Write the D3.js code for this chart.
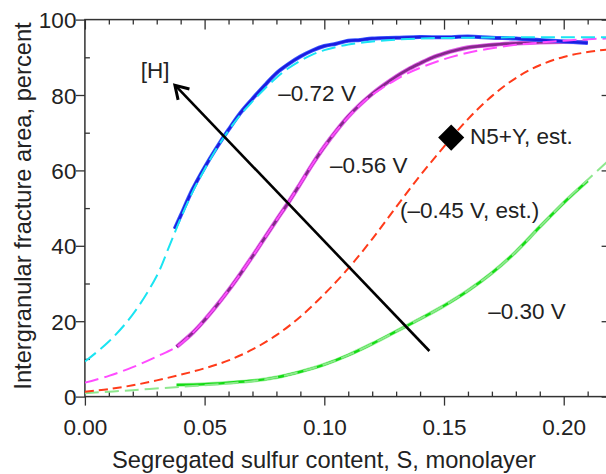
<!DOCTYPE html>
<html>
<head>
<meta charset="utf-8">
<script src="https://cdn.jsdelivr.net/npm/d3@7"></script>
<style>
  html, body { margin: 0; padding: 0; background: #fff; }
  svg { display: block; font-family: "Liberation Sans", Arial, sans-serif; }
</style>
</head>
<body>
<svg id="chart" width="606" height="474"></svg>
<script>
// Segregated sulfur content (monolayer) vs intergranular fracture area (percent)

// -0.72 V : fitted curve and measured trace
const fit072S = [0, 0.01, 0.02, 0.03, 0.035, 0.04, 0.045, 0.05, 0.055, 0.06, 0.065, 0.07, 0.075, 0.08, 0.085, 0.09, 0.095, 0.10, 0.11, 0.12, 0.13, 0.14, 0.16, 0.18, 0.20, 0.22];
const fit072V = [9.3, 14.6, 21.8, 32.0, 39.5, 47.3, 54.3, 60.3, 65.8, 70.6, 74.8, 78.3, 81.6, 84.6, 87.1, 89.1, 90.7, 91.9, 93.4, 94.2, 94.7, 95.0, 95.2, 95.3, 95.3, 95.3];
const data072S = [0.0375, 0.04, 0.045, 0.05, 0.055, 0.06, 0.065, 0.07, 0.075, 0.08, 0.085, 0.09, 0.095, 0.10, 0.105, 0.11, 0.115, 0.12, 0.13, 0.14, 0.15, 0.16, 0.17, 0.18, 0.19, 0.20, 0.21];
const data072V = [44.5, 48.0, 55.0, 60.8, 66.0, 70.8, 75.3, 79.0, 82.5, 85.8, 88.2, 90.2, 91.8, 93.0, 93.6, 94.4, 94.6, 95.0, 95.2, 95.4, 95.3, 95.5, 95.2, 95.0, 94.6, 94.2, 93.8];

// -0.56 V
const fit056S = [0, 0.01, 0.02, 0.03, 0.0383, 0.045, 0.05, 0.055, 0.06, 0.065, 0.07, 0.075, 0.08, 0.085, 0.09, 0.095, 0.10, 0.105, 0.11, 0.115, 0.12, 0.125, 0.13, 0.135, 0.14, 0.15, 0.16, 0.17, 0.18, 0.19, 0.20, 0.21, 0.22];
const fit056V = [3.7, 5.5, 7.8, 10.6, 13.2, 16.9, 20.3, 24.1, 28.2, 32.6, 37.2, 42.0, 46.8, 51.5, 56.5, 61.6, 66.3, 70.5, 74.2, 77.4, 80.1, 82.2, 84.1, 85.8, 87.2, 89.5, 91.2, 92.4, 93.3, 93.9, 94.4, 94.8, 95.0];
const data056S = [0.0383, 0.045, 0.05, 0.055, 0.06, 0.065, 0.07, 0.075, 0.08, 0.085, 0.09, 0.095, 0.10, 0.105, 0.11, 0.115, 0.12, 0.125, 0.13, 0.135, 0.14, 0.145, 0.15, 0.155, 0.16, 0.17, 0.18, 0.19, 0.20, 0.21];
const data056V = [13.2, 16.9, 20.3, 24.1, 28.2, 32.6, 37.2, 42.0, 46.8, 51.5, 56.5, 61.6, 66.3, 70.5, 74.3, 77.5, 80.3, 82.7, 84.9, 86.8, 88.4, 89.9, 91.0, 91.9, 92.6, 93.3, 93.7, 94.0, 94.1, 94.0];

// -0.45 V, estimated curve
const est045S = [0, 0.01, 0.02, 0.03, 0.04, 0.05, 0.06, 0.07, 0.08, 0.09, 0.10, 0.11, 0.12, 0.13, 0.14, 0.15, 0.16, 0.17, 0.18, 0.19, 0.20, 0.21, 0.22];
const est045V = [1.3, 2.0, 3.0, 4.3, 5.8, 7.5, 9.6, 12.5, 16.3, 21.2, 27.2, 34.0, 41.8, 50.3, 58.6, 66.3, 73.6, 79.7, 84.5, 87.9, 90.1, 91.4, 92.2];

// -0.30 V
const fit030S = [0, 0.02, 0.04, 0.05, 0.06, 0.07, 0.08, 0.09, 0.10, 0.11, 0.12, 0.13, 0.14, 0.15, 0.16, 0.17, 0.18, 0.19, 0.20, 0.21, 0.22];
const fit030V = [0.9, 1.7, 2.6, 3.0, 3.5, 4.1, 5.1, 6.6, 8.5, 11.0, 14.0, 17.3, 20.6, 24.1, 28.1, 32.8, 38.4, 45.0, 51.5, 57.5, 63.4];
const data030S = [0.0383, 0.05, 0.06, 0.07, 0.08, 0.09, 0.10, 0.11, 0.12, 0.13, 0.14, 0.15, 0.16, 0.17, 0.18, 0.19, 0.20, 0.21];
const data030V = [3.1, 3.3, 3.7, 4.2, 5.1, 6.6, 8.5, 11.0, 14.0, 17.3, 20.6, 24.1, 28.1, 32.8, 38.4, 45.0, 51.4, 57.2];

// N5+Y estimate
const pointS = [0.153];
const pointV = [68.7];

// Axis ticks
const xMajor = [0, 0.05, 0.10, 0.15, 0.20];
const xMajorLabels = ["0.00", "0.05", "0.10", "0.15", "0.20"];
const xMinor = [0.01, 0.02, 0.03, 0.04, 0.06, 0.07, 0.08, 0.09, 0.11, 0.12, 0.13, 0.14, 0.16, 0.17, 0.18, 0.19, 0.21];
const yMajor = [0, 20, 40, 60, 80, 100];
const yMajorLabels = ["0", "20", "40", "60", "80", "100"];
const yMinor = [10, 30, 50, 70, 90];

// Hydrogen arrow, from low to high [H]
const arrowS = [0.1439, 0.0376];
const arrowV = [12.1, 82.6];

const svg = d3.select("#chart");
const pLeft = 84.9, pRight = 611.6, pTop = 19.6, pBottom = 396.6;

const x = d3.scaleLinear().domain([0, 0.22]).range([pLeft, pRight]);
const y = d3.scaleLinear().domain([0, 100]).range([pBottom, pTop]);

svg.append("defs").append("clipPath").attr("id", "plot")
  .append("rect").attr("x", pLeft).attr("y", pTop)
  .attr("width", pRight - pLeft).attr("height", pBottom - pTop);

const textColor = "#222";

// ---- axes ----
function drawAxis(axisFn, pos, vals, size, labels) {
  const a = axisFn.tickValues(vals).tickSizeOuter(0).tickSize(size).tickPadding(7);
  a.tickFormat((d, i) => labels ? labels[i] : "");
  const g = svg.append("g").attr("transform", pos).call(a);
  g.select(".domain").remove();
  g.selectAll(".tick line").attr("stroke", "#333").attr("stroke-width", 1.3);
  g.selectAll("text").attr("fill", textColor).attr("font-size", 22.5);
  return g;
}
// bottom
const gb = drawAxis(d3.axisBottom(x), `translate(0,${pBottom})`, xMajor, 9, xMajorLabels);
gb.selectAll("text").attr("dy", null).attr("y", 38);
drawAxis(d3.axisBottom(x), `translate(0,${pBottom})`, xMinor, -5, null);
// top
drawAxis(d3.axisTop(x), `translate(0,${pTop})`, xMajor, -10, null);
drawAxis(d3.axisTop(x), `translate(0,${pTop})`, xMinor, -5, null);
// left
const gl = drawAxis(d3.axisLeft(y), `translate(${pLeft},0)`, yMajor, 9, yMajorLabels);
gl.selectAll("text").attr("x", -8.5).attr("dy", "0.36em");
drawAxis(d3.axisLeft(y), `translate(${pLeft},0)`, yMinor, -5, null);
// right
drawAxis(d3.axisRight(y), `translate(${pRight},0)`, yMajor, -10, null);
drawAxis(d3.axisRight(y), `translate(${pRight},0)`, yMinor, -5, null);

svg.append("rect").attr("x", pLeft).attr("y", pTop)
  .attr("width", pRight - pLeft).attr("height", pBottom - pTop)
  .attr("fill", "none").attr("stroke", "#333").attr("stroke-width", 1.5);

// ---- axis titles ----
svg.append("text").attr("x", 324).attr("y", 468).attr("text-anchor", "middle")
  .attr("font-size", 23.7).attr("fill", textColor)
  .text("Segregated sulfur content, S, monolayer");
svg.append("text").attr("transform", "translate(31,206) rotate(-90)")
  .attr("text-anchor", "middle").attr("font-size", 23.7).attr("fill", textColor)
  .text("Intergranular fracture area, percent");

// ---- curves ----
const plot = svg.append("g").attr("clip-path", "url(#plot)");
const line = d3.line().x(d => x(d[0])).y(d => y(d[1])).curve(d3.curveCatmullRom.alpha(0.5));
const zip = (a, b) => a.map((v, i) => [v, b[i]]);

function trace(S, V, color, width, dash, opacity) {
  plot.append("path").datum(zip(S, V)).attr("d", line)
    .attr("fill", "none").attr("stroke", color).attr("stroke-width", width)
    .attr("stroke-dasharray", dash || null).attr("stroke-opacity", opacity == null ? 1 : opacity)
    .attr("stroke-linecap", "butt").attr("stroke-linejoin", "round");
}

// measured traces
trace(data030S, data030V, "#86ec86", 3.8, null, 0.75);
trace(data030S, data030V, "#14dc14", 2.4);
trace(data056S, data056V, "#e060e8", 4.4);
trace(data056S, data056V, "#86288c", 2.6);
trace(data072S, data072V, "#3a5cff", 4);
trace(data072S, data072V, "#1c1ce0", 2.4);

// fitted / estimated curves
trace(fit030S, fit030V, "#8ee88e", 2, "14,6");
trace(est045S, est045V, "#ff3b1a", 2, "9,5");
trace(fit056S, fit056V, "#ff4cff", 2, "14,6");
trace(fit072S, fit072V, "#1ae4f2", 2, "14,6");

// ---- arrow ----
const ax0 = x(arrowS[0]), ay0 = y(arrowV[0]);
const ax1 = x(arrowS[1]), ay1 = y(arrowV[1]);
svg.append("line").attr("x1", ax0).attr("y1", ay0).attr("x2", ax1 + 2).attr("y2", ay1 + 2)
  .attr("stroke", "#000").attr("stroke-width", 2.6);
const ang = Math.atan2(ay0 - ay1, ax0 - ax1);
const headLen = 15, spread = 0.55;
svg.append("path")
  .attr("d", `M${ax1 + headLen * Math.cos(ang + spread)},${ay1 + headLen * Math.sin(ang + spread)}L${ax1},${ay1}L${ax1 + headLen * Math.cos(ang - spread)},${ay1 + headLen * Math.sin(ang - spread)}`)
  .attr("fill", "none").attr("stroke", "#000").attr("stroke-width", 3).attr("stroke-linejoin", "miter");

// ---- N5+Y marker ----
svg.selectAll(".pt").data(zip(pointS, pointV)).enter().append("path")
  .attr("transform", d => `translate(${x(d[0])},${y(d[1])}) rotate(45)`)
  .attr("d", d3.symbol().type(d3.symbolSquare).size(340))
  .attr("fill", "#000");

// ---- annotations ----
const notes = [
  { s: 0.0293, v: 84.5, t: "[H]", anchor: "middle" },
  { s: 0.0808, v: 78.3, t: "\u20130.72 V", anchor: "start" },
  { s: 0.1024, v: 59.3, t: "\u20130.56 V", anchor: "start" },
  { s: 0.1609, v: 67.0, t: "N5+Y, est.", anchor: "start" },
  { s: 0.1316, v: 47.3, t: "(\u20130.45 V, est.)", anchor: "start" },
  { s: 0.1685, v: 20.6, t: "\u20130.30 V", anchor: "start" }
];
svg.selectAll(".note").data(notes).enter().append("text")
  .attr("x", d => x(d.s)).attr("y", d => y(d.v))
  .attr("text-anchor", d => d.anchor)
  .attr("font-size", 22.5).attr("fill", textColor)
  .text(d => d.t);
</script>
</body>
</html>
